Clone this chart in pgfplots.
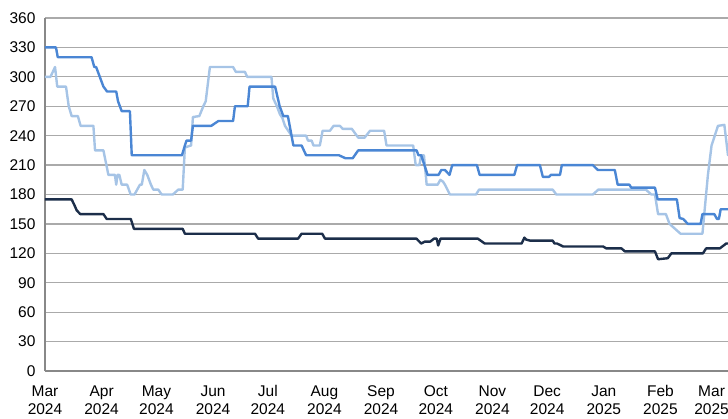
\documentclass[border=0pt]{standalone}
\usepackage{pgfplots}
\pgfplotsset{compat=1.18}
\usepackage{fontspec}
\setmainfont{Liberation Sans}
\definecolor{cdark}{RGB}{28,46,74}
\definecolor{cmed}{RGB}{74,134,212}
\definecolor{clight}{RGB}{166,196,230}
\definecolor{cgrid}{RGB}{170,170,170}
\definecolor{caxis}{RGB}{136,136,136}
\newcommand{\ml}[2]{\strut#1\\\strut#2}
\begin{document}
\begin{tikzpicture}
\path[use as bounding box] (-45bp,-48bp) rectangle (683bp,371bp);
\begin{axis}[
  scale only axis, width=683bp, height=353bp,
  xmin=0, xmax=374, ymin=0, ymax=360,
  axis x line*=bottom, axis y line*=left,
  axis line style={-, draw=caxis, line width=2.2bp},
  ymajorgrids, grid style={draw=cgrid, line width=1.2bp},
  major tick length=0pt,
  ytick={0,30,...,360},
  xtick={0,31,61,92,122,153,184,214,245,275,306,337,365},
  xticklabels={\ml{Mar}{2024},\ml{Apr}{2024},\ml{May}{2024},\ml{Jun}{2024},\ml{Jul}{2024},\ml{Aug}{2024},\ml{Sep}{2024},\ml{Oct}{2024},\ml{Nov}{2024},\ml{Dec}{2024},\ml{Jan}{2025},\ml{Feb}{2025},\ml{Mar}{2025}},
  /pgf/number format/assume math mode=true,
  yticklabel style={font=\fontsize{15.5bp}{17bp}\selectfont, xshift=-6bp},
  xticklabel style={font=\fontsize{15.5bp}{18.3bp}\selectfont, align=center, inner sep=0pt, yshift=-12bp},
  clip=true,
  every axis plot/.append style={line join=round, line cap=round, line width=2.4bp, no marks},
]
\addplot[clight] coordinates {
(0,300) (3,300) (5.5,310) (6.7,290) (11.5,290) (13,270) (14.6,260) (18,260) (19.5,250) (26.5,250) (27.4,225) (32,225) (34.7,200) (38.3,200) (39,190) (39.7,200) (40.7,200) (42,190) (45,190) (46.9,180) (49,180) (52,190) (53,190) (54.4,205) (56,200) (58,190) (59.3,185) (62,185) (63.9,180) (70,180) (73,185) (75.4,185) (76.6,228) (80,230) (81,259) (84.5,260) (86.7,270) (88,275) (90.3,310) (103,310) (104.5,305) (109.5,305) (110.7,300) (124,300) (125,278) (127,270) (128.6,262) (130,258) (131.4,250) (135,240) (143,240) (144,235) (146,235) (147,230) (150.5,230) (152,245) (156,245) (158,250) (161.5,250) (163,247) (168,247) (171.5,238) (175,238) (178,245) (185.7,245) (187,230) (201.6,230) (203,210) (205,210) (206,220) (207.5,220) (209,190) (215,190) (216.5,195) (218,193) (219,190) (221.7,180) (236,180) (237.7,185) (278,185) (280,180) (300,180) (303,185) (329,185) (332,180) (334,180) (335.7,160) (340,160) (342,150) (345,145) (348,140) (360,140) (363,200) (365,230) (368.5,250) (372,251) (374,220)
};
\addplot[cmed] coordinates {
(0,330) (6,330) (7,320) (25.5,320) (27,310) (28,310) (30,300) (32,290) (34,285) (39,285) (40,275) (42,265) (46.5,265) (47.5,220) (75,220) (76.6,230) (77.5,235) (80,235) (81,250) (91,250) (95,255) (103,255) (104,270) (111,270) (112,290) (126,290) (128.5,270) (130.5,260) (133,260) (136,230) (140.5,230) (143,220) (161,220) (164.5,217) (168.5,217) (171.5,225) (203.5,225) (204.5,220) (206,220) (209.5,200) (215.5,200) (217,205) (219,205) (221.5,200) (223,210) (236.5,210) (238,200) (257,200) (258.5,210) (271,210) (272.6,198) (276,198) (277,200) (282,200) (283,210) (300,210) (302.7,205) (312,205) (313.6,190) (320,190) (321,187) (334,187) (335.5,175) (346,175) (347.5,156) (349.5,155) (352,150) (359,150) (360,160) (366.5,160) (368,155) (369,155) (370,165) (374,165)
};
\addplot[cdark] coordinates {
(0,175) (14.6,175) (16.4,168) (17.3,164) (19.3,160) (32,160) (33.8,155) (47,155) (48.7,145) (75.4,145) (76.6,140) (115,140) (116.7,135) (138.6,135) (140.5,140) (151.8,140) (153.3,135) (203.4,135) (206,130) (208,132) (211,132) (213,135) (214.5,135) (215.3,128) (216.6,135) (237,135) (240.8,130) (261,130) (262.5,136) (263.5,134) (265.5,133) (278,133) (279,130) (280.4,130) (283.7,127) (305.6,127) (307.4,125) (315.7,125) (317.5,122) (334,122) (335.7,114) (341,115) (343,120) (360.3,120) (362,125) (369.5,125) (373,130) (374,130)
};
\end{axis}
\end{tikzpicture}
\end{document}
